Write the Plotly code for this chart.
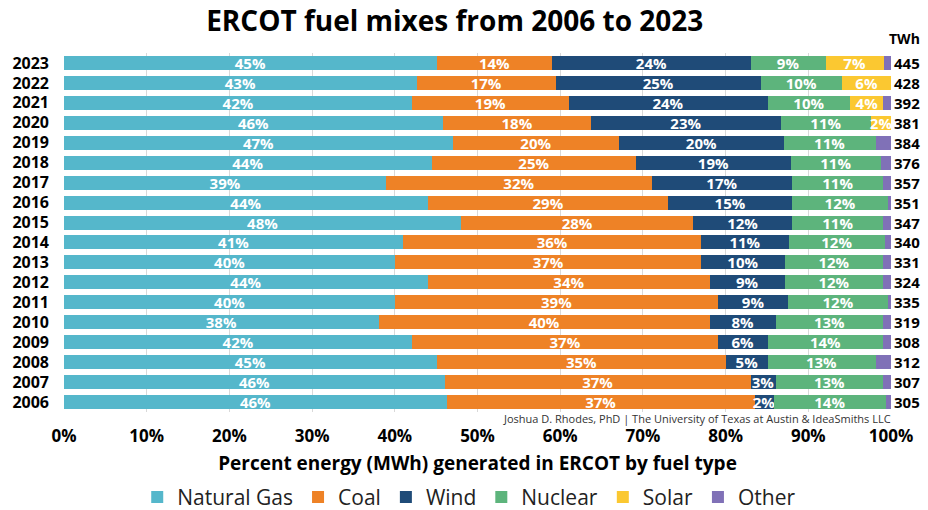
import plotly.graph_objects as go

# ERCOT annual generation share by fuel (percent of MWh), newest year first
years = ["2023", "2022", "2021", "2020", "2019", "2018", "2017", "2016", "2015",
         "2014", "2013", "2012", "2011", "2010", "2009", "2008", "2007", "2006"]
natural_gas = [45.06, 42.64, 42.12, 45.82, 47.03, 44.45, 38.97, 44.0, 48.04,
               41.03, 40.06, 44.0, 40.06, 38.04, 42.12, 45.06, 46.06, 46.3]
coal = [13.98, 16.84, 18.89, 17.94, 20.07, 24.75, 32.08, 29.06, 28.05,
        36.02, 36.99, 34.1, 39.0, 40.06, 36.94, 35.02, 36.96, 37.2]
wind = [23.98, 24.74, 24.06, 22.88, 19.94, 18.65, 17.0, 14.99, 11.96,
        10.6, 10.08, 9.03, 8.54, 7.94, 6.01, 4.99, 3.02, 2.3]
nuclear = [9.08, 9.88, 10.0, 10.97, 11.09, 10.96, 11.04, 11.6, 11.04,
           11.6, 11.96, 11.96, 12.0, 13.05, 14.02, 13.06, 13.05, 13.6]
solar = [7.0, 5.9, 4.02, 2.39, 0, 0, 0, 0, 0,
         0, 0, 0, 0, 0, 0, 0, 0, 0]
other = [0.9, 0.0, 0.91, 0.0, 1.87, 1.19, 0.91, 0.35, 0.91,
         0.75, 0.91, 0.91, 0.4, 0.91, 0.91, 1.87, 0.91, 0.6]
total_twh = [445, 428, 392, 381, 384, 376, 357, 351, 347,
             340, 331, 324, 335, 319, 308, 312, 307, 305]

series = [
    ("Natural Gas", natural_gas, "#55B7CB", True),
    ("Coal", coal, "#EE8226", True),
    ("Wind", wind, "#1F4B78", True),
    ("Nuclear", nuclear, "#5DB47C", True),
    ("Solar", solar, "#FBC831", True),
    ("Other", other, "#8071B7", False),
]

FONT = "Open Sans"
n = len(years)

fig = go.Figure()
for name, vals, color, labelled in series:
    labels = [f"{v:.0f}%" if (labelled and v > 0) else "" for v in vals]
    fig.add_trace(go.Bar(
        name=name, y=years, x=vals, orientation="h",
        marker=dict(color=color, line=dict(width=0)),
        text=labels, textposition="inside", insidetextanchor="middle",
        textangle=0, constraintext="none", cliponaxis=False,
        textfont=dict(family=FONT, size=15, color="white", weight="bold"),
        hovertemplate=name + " %{y}: %{x:.1f}%<extra></extra>",
    ))

# Annual total generation at the right end of each bar
for i, twh in enumerate(total_twh):
    fig.add_annotation(x=1, xref="paper", y=i, yref="y", text=str(twh),
                       showarrow=False, xanchor="left", xshift=1,
                       font=dict(family=FONT, size=15, color="black", weight="bold"))
fig.add_annotation(x=1, xref="paper", y=1, yref="paper", text="TWh",
                   showarrow=False, xanchor="left", yanchor="bottom", xshift=-4, yshift=3,
                   font=dict(family=FONT, size=14, color="black", weight="bold"))
fig.add_annotation(x=1, xref="paper", y=0, yref="paper",
                   text="Joshua D. Rhodes, PhD | The University of Texas at Austin & IdeaSmiths LLC",
                   showarrow=False, xanchor="right", yanchor="top", xshift=2, yshift=3,
                   font=dict(family=FONT, size=11, color="#333333"))

fig.update_layout(
    width=928, height=510,
    barmode="stack", bargap=0.3,
    plot_bgcolor="white", paper_bgcolor="white",
    margin=dict(l=64, r=37, t=53, b=98, autoexpand=False),
    title=dict(text="ERCOT fuel mixes from 2006 to 2023", x=0.49, xanchor="center",
               y=0.958, yanchor="middle",
               font=dict(family=FONT, size=28, color="black", weight="bold")),
    xaxis=dict(range=[0, 100], tickvals=list(range(0, 101, 10)),
               ticktext=[f"{v}%" for v in range(0, 101, 10)],
               showgrid=True, gridcolor="#D9D9D9", gridwidth=1,
               zeroline=False, showline=False, ticks="", ticklabelstandoff=12,
               tickfont=dict(family=FONT, size=17, color="black", weight="bold"),
               title=dict(text="Percent energy (MWh) generated in ERCOT by fuel type",
                          standoff=10,
                          font=dict(family=FONT, size=19, color="black", weight="bold"))),
    yaxis=dict(type="category", categoryorder="array", categoryarray=years,
               range=[n - 0.5, -0.5], autorange=False,
               showgrid=False, zeroline=False, showline=False,
               ticks="", ticklabelstandoff=14,
               tickfont=dict(family=FONT, size=16, color="black", weight="bold")),
    legend=dict(orientation="h", x=0.49, xanchor="center", y=-0.238, yanchor="middle",
                traceorder="normal", font=dict(family=FONT, size=21, color="#222222"),
                itemwidth=30),
    font=dict(family=FONT),
)

fig.write_html("out.html")
